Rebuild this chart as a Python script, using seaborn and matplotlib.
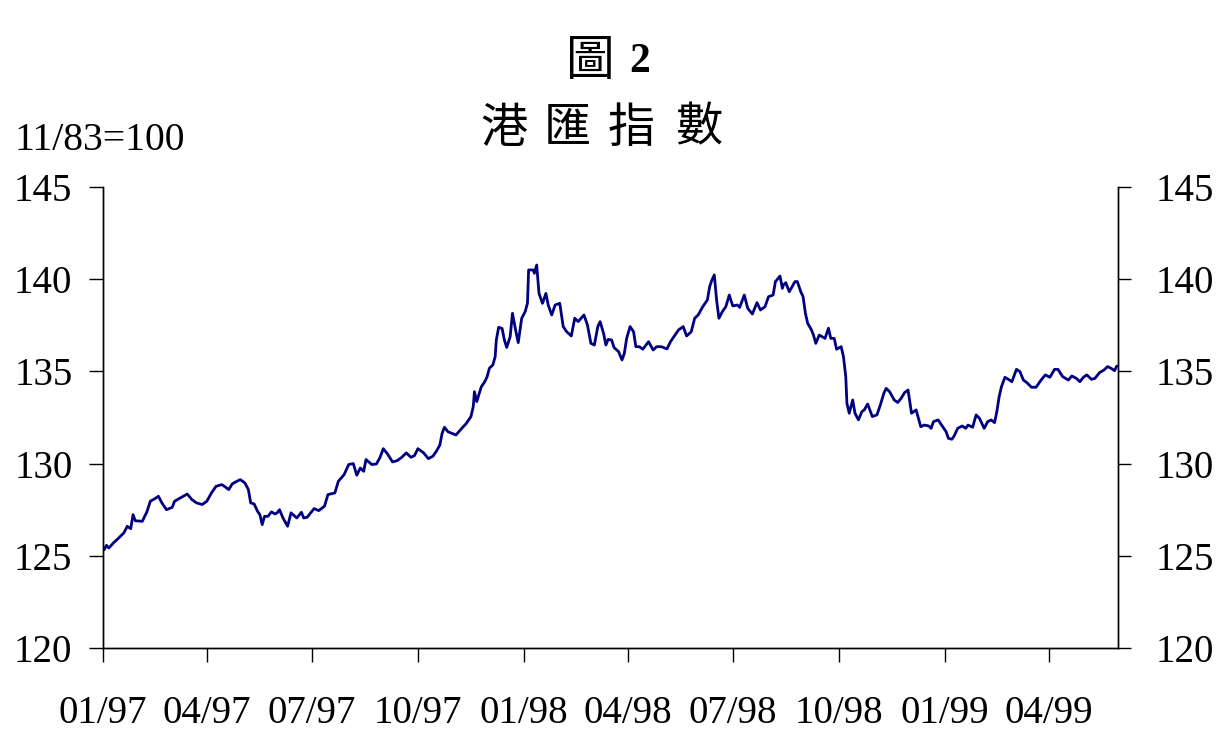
import numpy as np
import pandas as pd
import matplotlib
matplotlib.use('Agg')
import matplotlib.pyplot as plt
import seaborn as sns

# HKD effective exchange rate index (11/83=100)
dates_1997 = ['01-02', '01-04', '01-06', '01-10', '01-14', '01-19', '01-22', '01-25', '01-27', '01-29',
              '02-04', '02-08', '02-11', '02-15', '02-18', '02-21', '02-25', '03-02', '03-04', '03-09',
              '03-15', '03-19', '03-23', '03-28', '04-01', '04-05', '04-09', '04-14', '04-17', '04-20',
              '04-23', '04-27', '04-30', '05-04', '05-07', '05-09', '05-12', '05-15', '05-17', '05-19',
              '05-21', '05-24', '05-27', '05-30', '06-01', '06-03', '06-06', '06-10', '06-13', '06-18',
              '06-22', '06-24', '06-27', '07-03', '07-07', '07-12', '07-15', '07-21', '07-24', '07-29',
              '08-02', '08-06', '08-09', '08-12', '08-15', '08-17', '08-22', '08-26', '08-29', '09-01',
              '09-05', '09-09', '09-13', '09-17', '09-21', '09-25', '09-28', '10-01', '10-06', '10-10',
              '10-14', '10-17', '10-20', '10-22', '10-24', '10-27', '11-01', '11-03', '11-08', '11-12',
              '11-16', '11-18', '11-19', '11-21', '11-25', '11-28', '11-30', '12-02', '12-05', '12-07',
              '12-08', '12-10', '12-13', '12-15', '12-17', '12-20', '12-22', '12-25', '12-27', '12-30']
index_1997 = [125.33, 125.57, 125.42, 125.70, 125.93, 126.24, 126.60, 126.47, 127.23, 126.90,
              126.87, 127.38, 127.96, 128.10, 128.23, 127.87, 127.50, 127.63, 127.96, 128.14,
              128.35, 128.05, 127.87, 127.78, 127.96, 128.41, 128.77, 128.86, 128.73, 128.59,
              128.90, 129.04, 129.13, 128.95, 128.59, 127.87, 127.81, 127.41, 127.23, 126.69,
              127.14, 127.14, 127.38, 127.27, 127.33, 127.50, 127.05, 126.60, 127.33, 127.05,
              127.36, 127.05, 127.09, 127.56, 127.45, 127.69, 128.32, 128.41, 129.04, 129.40,
              129.95, 130.00, 129.37, 129.76, 129.58, 130.22, 129.95, 129.98, 130.31, 130.81,
              130.49, 130.09, 130.16, 130.34, 130.58, 130.34, 130.43, 130.81, 130.58, 130.27,
              130.40, 130.67, 131.00, 131.64, 131.97, 131.73, 131.60, 131.55, 131.91, 132.18,
              132.55, 133.09, 133.90, 133.36, 134.17, 134.44, 134.71, 135.17, 135.35, 135.80,
              136.70, 137.39, 137.33, 136.70, 136.30, 136.88, 138.15, 137.15, 136.56, 137.88]

dates_1998 = ['01-02', '01-04', '01-05', '01-09', '01-10', '01-12', '01-14', '01-17', '01-20', '01-22',
              '01-25', '01-28', '02-01', '02-04', '02-07', '02-11', '02-14', '02-17', '02-22', '02-25',
              '02-28', '03-03', '03-06', '03-08', '03-11', '03-13', '03-15', '03-18', '03-20', '03-24',
              '03-27', '03-29', '03-31', '04-03', '04-06', '04-08', '04-11', '04-14', '04-19', '04-23',
              '04-26', '04-30', '05-05', '05-08', '05-12', '05-15', '05-19', '05-22', '05-26', '05-29',
              '06-01', '06-05', '06-09', '06-11', '06-13', '06-15', '06-17', '06-19', '06-22', '06-25',
              '06-28', '07-01', '07-05', '07-07', '07-11', '07-14', '07-18', '07-22', '07-25', '07-29',
              '08-01', '08-05', '08-07', '08-11', '08-13', '08-14', '08-16', '08-19', '08-24', '08-26',
              '08-29', '08-31', '09-02', '09-04', '09-07', '09-09', '09-11', '09-14', '09-19', '09-22',
              '09-24', '09-27', '09-29', '10-03', '10-05', '10-07', '10-08', '10-10', '10-13', '10-15',
              '10-18', '10-21', '10-23', '10-26', '10-30', '11-03', '11-06', '11-09', '11-11', '11-14',
              '11-18', '11-21', '11-24', '11-27', '11-30', '12-03', '12-07', '12-11', '12-14', '12-18',
              '12-20', '12-22', '12-26', '12-30']
index_1998 = [138.24, 138.69, 140.50, 140.50, 140.32, 140.77, 139.23, 138.69, 139.23, 138.60,
              138.06, 138.60, 138.69, 137.43, 137.15, 136.92, 137.88, 137.70, 138.06, 137.52,
              136.52, 136.43, 137.43, 137.70, 137.06, 136.43, 136.74, 136.70, 136.30, 136.07,
              135.62, 135.98, 136.79, 137.43, 137.15, 136.34, 136.34, 136.20, 136.61, 136.16,
              136.34, 136.34, 136.22, 136.61, 136.97, 137.25, 137.43, 136.92, 137.15, 137.88,
              138.06, 138.51, 138.87, 139.60, 139.96, 140.23, 138.87, 137.88, 138.24, 138.51,
              139.14, 138.55, 138.60, 138.47, 139.14, 138.42, 138.11, 138.73, 138.33, 138.51,
              139.05, 139.14, 139.87, 140.17, 139.50, 139.69, 139.81, 139.32, 139.87, 139.87,
              139.32, 139.05, 138.15, 137.60, 137.28, 136.97, 136.52, 136.97, 136.79, 137.34,
              136.79, 136.79, 136.20, 136.34, 135.80, 134.71, 133.27, 132.73, 133.45, 132.73,
              132.37, 132.82, 132.91, 133.23, 132.55, 132.64, 133.18, 133.81, 134.08, 133.90,
              133.45, 133.31, 133.54, 133.85, 133.99, 132.73, 132.91, 132.00, 132.09, 132.04,
              131.91, 132.27, 132.37, 132.00]

dates_1999 = ['01-02', '01-04', '01-07', '01-09', '01-12', '01-16', '01-19', '01-21', '01-25', '01-28',
              '01-31', '02-02', '02-04', '02-07', '02-10', '02-13', '02-15', '02-17', '02-19', '02-22',
              '02-25', '02-28', '03-04', '03-07', '03-10', '03-13', '03-17', '03-21', '03-25', '03-29',
              '04-02', '04-06', '04-09', '04-13', '04-18', '04-21', '04-25', '04-28', '05-01', '05-04',
              '05-08', '05-11', '05-15', '05-19', '05-22', '05-25', '05-28', '05-30']
index_1999 = [131.73, 131.37, 131.32, 131.50, 131.91, 132.04, 131.91, 132.09, 131.97, 132.64,
              132.45, 132.18, 131.91, 132.27, 132.37, 132.22, 132.82, 133.63, 134.17, 134.68,
              134.57, 134.44, 135.11, 134.99, 134.53, 134.39, 134.14, 134.14, 134.50, 134.81,
              134.68, 135.11, 135.11, 134.72, 134.53, 134.75, 134.62, 134.44, 134.68, 134.81,
              134.57, 134.62, 134.93, 135.08, 135.26, 135.17, 135.04, 135.29]

tick_dates = ['1997-01-01', '1997-04-01', '1997-07-01', '1997-10-01', '1998-01-01',
              '1998-04-01', '1998-07-01', '1998-10-01', '1999-01-01', '1999-04-01']
tick_labels = ['01/97', '04/97', '07/97', '10/97', '01/98', '04/98', '07/98', '10/98', '01/99', '04/99']
y_ticks = [120, 125, 130, 135, 140, 145]
title_chars = ['港', '匯', '指', '數']

sns.set_theme(style='white')
plt.rcParams['font.family'] = ['Liberation Serif', 'Noto Sans CJK TC']
plt.rcParams['text.color'] = 'black'

dates = (['1997-' + d for d in dates_1997] + ['1998-' + d for d in dates_1998]
         + ['1999-' + d for d in dates_1999])
df = pd.DataFrame({'date': pd.to_datetime(dates),
                   'index': index_1997 + index_1998 + index_1999})

fig = plt.figure(figsize=(12.21, 7.5), dpi=100)
ax = fig.add_axes([0.0844, 0.136, 0.8312, 0.6147])
sns.lineplot(data=df, x='date', y='index', color='#000080', linewidth=2.0, ax=ax)

ax.set_xlim(pd.Timestamp('1997-01-01'), pd.Timestamp('1999-05-31'))
ax.set_ylim(120, 145)
ax.set_xticks(pd.to_datetime(tick_dates))
ax.set_xticklabels(tick_labels)
ax.set_yticks(y_ticks)
ax.set_xlabel('')
ax.set_ylabel('')

# right-hand axis with the same scale
ax2 = ax.twinx()
ax2.set_ylim(120, 145)
ax2.set_yticks(y_ticks)

for a in [ax, ax2]:
    a.spines['top'].set_visible(False)
    for s in ['left', 'right', 'bottom']:
        a.spines[s].set_color('black')
        a.spines[s].set_linewidth(1.0)

ax.tick_params(axis='both', direction='out', length=10, width=1, color='black',
               labelsize=28, labelcolor='black')
ax.tick_params(axis='y', left=True, right=False, pad=12)
ax.tick_params(axis='x', bottom=True, pad=24)
ax2.tick_params(axis='y', direction='out', right=True, left=False, length=9, width=1,
                color='black', labelsize=28, labelcolor='black', pad=18)

# titles
fig.text(590 / 1221, 0.918, '圖', fontsize=35, ha='center', va='center', family='Noto Sans CJK TC')
fig.text(629 / 1221, 0.918, '2', fontsize=30, ha='left', va='center', fontweight='bold')
for ch, xp in zip(title_chars, [504, 567, 631, 699]):
    fig.text(xp / 1221, 0.829, ch, fontsize=34, ha='center', va='center', family='Noto Sans CJK TC')
fig.text(0.012, 0.813, '11/83=100', fontsize=28.5, ha='left', va='center')

fig.savefig('out.png', dpi=100)
